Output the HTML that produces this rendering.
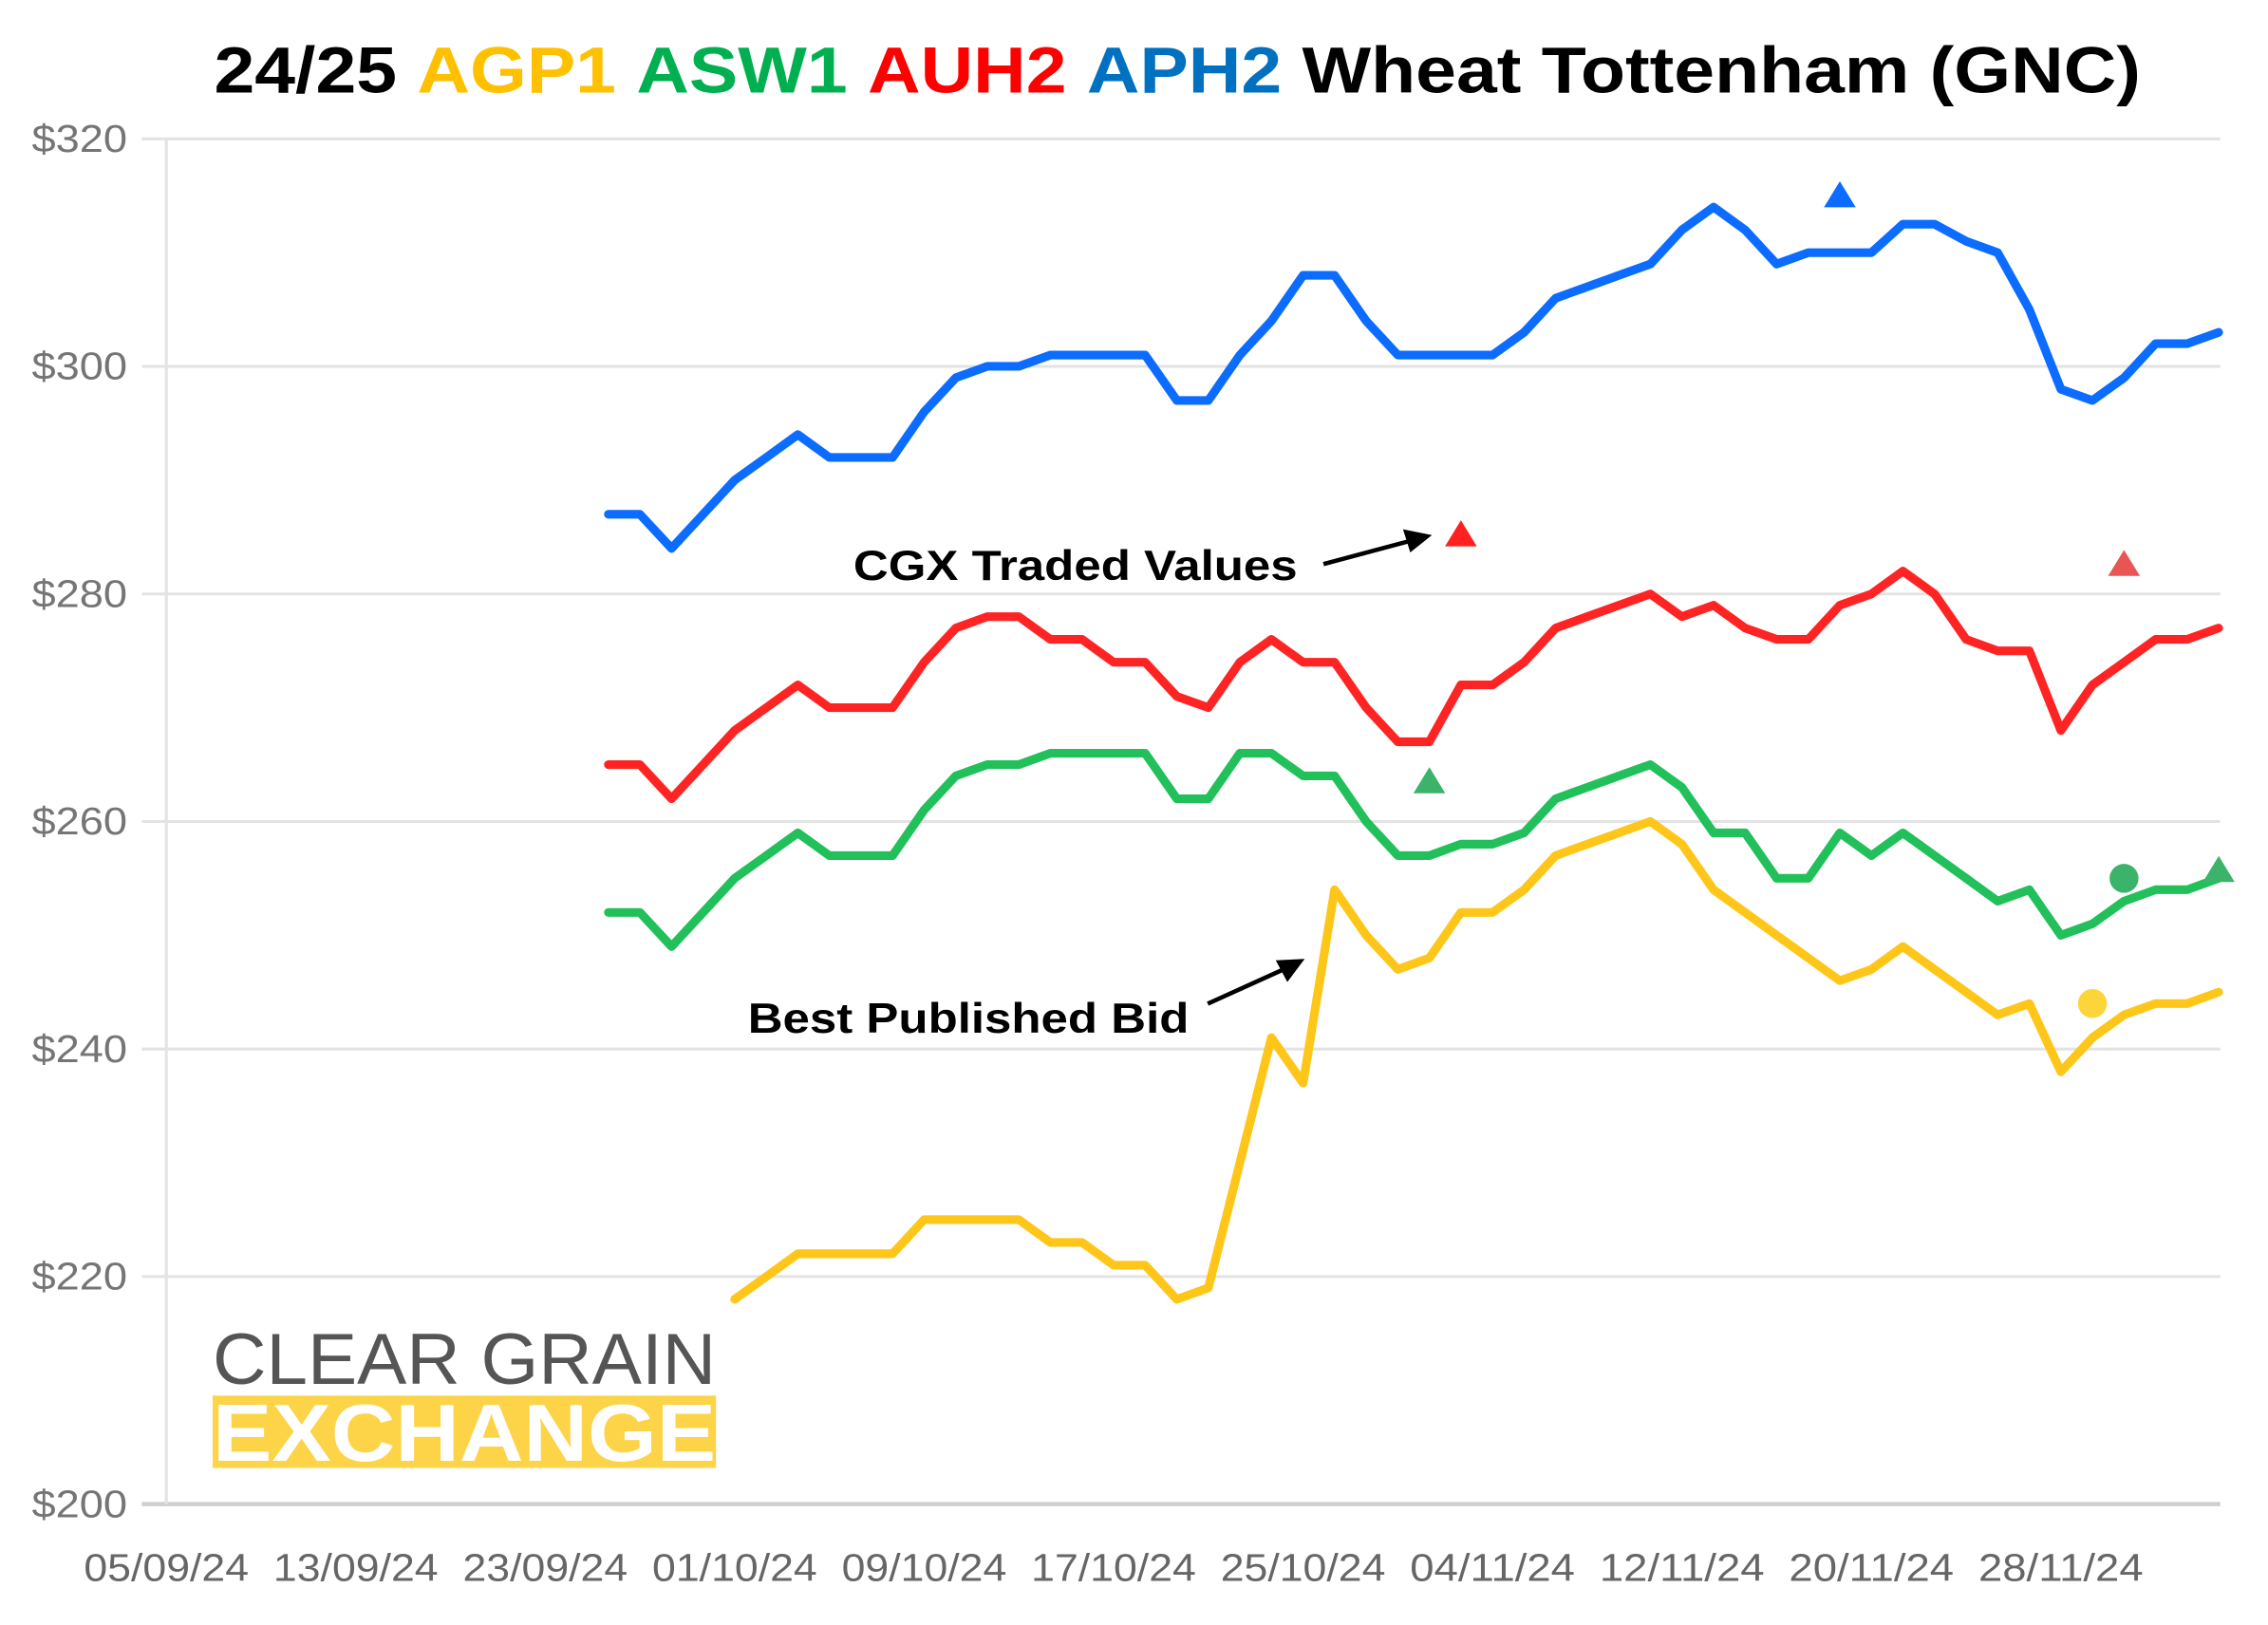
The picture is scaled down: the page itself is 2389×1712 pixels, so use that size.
<!DOCTYPE html>
<html><head><meta charset="utf-8"><style>
html,body{margin:0;padding:0;background:#fff;}
svg{display:block;}
</style></head><body>
<svg id="chart" width="2389" height="1712" viewBox="0 0 1568 1123.6" preserveAspectRatio="none" xmlns="http://www.w3.org/2000/svg" font-family="Liberation Sans, sans-serif">
<text x="814" y="64" text-anchor="middle" font-size="45" font-weight="bold" textLength="1332" lengthAdjust="spacingAndGlyphs"><tspan fill="#000">24/25 </tspan><tspan fill="#ffc000">AGP1 </tspan><tspan fill="#00b050">ASW1 </tspan><tspan fill="#ff0000">AUH2 </tspan><tspan fill="#0070c0">APH2 </tspan><tspan fill="#000">Wheat Tottenham (GNC)</tspan></text>
<g id="grid"></g>
<g id="xlabels"></g>
<g>
<text x="147" y="957" font-size="50" fill="#555" textLength="348" lengthAdjust="spacingAndGlyphs">CLEAR GRAIN</text>
<rect x="147" y="965" width="348" height="50" fill="#fdd447"/>
<text x="147" y="1010" font-size="56" font-weight="bold" fill="#fff" textLength="348" lengthAdjust="spacingAndGlyphs">EXCHANGE</text>
</g>
<g id="series"></g>
<g id="markers"></g>
<g>
<text x="590" y="401" font-size="29" font-weight="bold" fill="#000" textLength="307" lengthAdjust="spacingAndGlyphs">CGX Traded Values</text>
<line x1="915" y1="390" x2="975" y2="374" stroke="#000" stroke-width="3"/>
<polygon points="990,370 970,366 975,382" fill="#000"/>
</g>
<g>
<text x="517" y="714" font-size="29" font-weight="bold" fill="#000" textLength="305" lengthAdjust="spacingAndGlyphs">Best Published Bid</text>
<line x1="835" y1="694" x2="888" y2="670" stroke="#000" stroke-width="3"/>
<polygon points="902,663 882,664 890,679" fill="#000"/>
</g>
</svg>
<script>
const yTicks = [200, 220, 240, 260, 280, 300, 320];
const xTickLabels = ["05/09/24","13/09/24","23/09/24","01/10/24","09/10/24","17/10/24","25/10/24","04/11/24","12/11/24","20/11/24","28/11/24"];
const startIndex = 14;
const aph2 = [287,287,284,287,290,292,294,292,292,292,296,299,300,300,301,301,301,301,297,297,301,304,308,308,304,301,301,301,301,303,306,307,308,309,312,314,312,309,310,310,310,312.5,312.5,311,310,305,298,297,299,302,302,303];
const auh2 = [265,265,262,265,268,270,272,270,270,270,274,277,278,278,276,276,274,274,271,270,274,276,274,274,270,267,267,272,272,274,277,278,279,280,278,279,277,276,276,279,280,282,280,276,275,275,268,272,274,276,276,277];
const asw1 = [252,252,249,252,255,257,259,257,257,257,261,264,265,265,266,266,266,266,262,262,266,266,264,264,260,257,257,258,258,259,262,263,264,265,263,259,259,255,255,259,257,259,257,255,253,254,250,251,253,254,254,255];
const agp1 = [null,null,null,null,218,220,222,222,222,222,225,225,225,225,223,223,221,221,218,219,230,241,237,254,250,247,248,252,252,254,257,258,259,260,258,254,252,250,248,246,247,249,247,245,243,244,238,241,243,244,244,245];
const tradeIdx = [53, 41, 62, 40, 62, 65, 61];
const tradeVal = [315, 285.2, 282.6, 263.5, 255, 255.7, 244];
const tradeShape = ["tri","tri","tri","tri","dot","tri","dot"];
const tradeColor = ["#0b6cff","#ff2020","#e85555","#3cb36a","#3cb36a","#3cb36a","#fdd43a"];

const NS = "http://www.w3.org/2000/svg";
const X0 = 115, DX = 21.83, Y0 = 1040, YSTEP = 157.33;
const xs = i => X0 + i * DX;
const ys = v => Y0 - (v - 200) / 20 * YSTEP;
function mk(tag, attrs, parent){const e=document.createElementNS(NS,tag);for(const k in attrs)e.setAttribute(k,attrs[k]);parent.appendChild(e);return e;}

const grid = document.getElementById('grid');
yTicks.forEach(v=>{
  const l = mk('line',{x1:98,x2:1535,y1:ys(v),y2:ys(v),stroke:v===200?'#cfcfcf':'#e3e3e3','stroke-width':v===200?3:2},grid);
  
  
  const t = mk('text',{x:88,y:ys(v)+9,'text-anchor':'end','font-size':27,fill:'#757575',textLength:66,lengthAdjust:'spacingAndGlyphs'},grid);
  t.textContent = '$'+v;
  
  
});
const ax = mk('line',{x1:115,x2:115,y1:96,y2:1040,stroke:'#e3e3e3','stroke-width':2},grid);



const xl = document.getElementById('xlabels');
xTickLabels.forEach((s,i)=>{
  const t = mk('text',{x:xs(i*6),y:1093,'text-anchor':'middle','font-size':27,fill:'#666',textLength:114,lengthAdjust:'spacingAndGlyphs'},xl);
  t.textContent = s;
  
  
});

const sg = document.getElementById('series');
[[agp1,'#ffc61a','agp1-line'],[asw1,'#22c05a','asw1-line'],[auh2,'#ff2424','auh2-line'],[aph2,'#0b6cff','aph2-line']].forEach(([arr,c,name])=>{
  let d='';let pen=false;
  arr.forEach((v,i)=>{ if(v===null){pen=false;return;} d+=(pen?'L':'M')+xs(startIndex+i).toFixed(1)+','+ys(v).toFixed(1)+' '; pen=true; });
  const p = mk('path',{d:d,fill:'none',stroke:c,'stroke-width':6,'stroke-linejoin':'round','stroke-linecap':'round'},sg);
  
  
});

const mg = document.getElementById('markers');
tradeIdx.forEach((ix,k)=>{
  const x = xs(ix), y = ys(tradeVal[k]);
  let e;
  if(tradeShape[k]==='tri'){
    e = mk('polygon',{points:`${x},${y-10} ${x-11},${y+8} ${x+11},${y+8}`,fill:tradeColor[k]},mg);
  } else {
    e = mk('circle',{cx:x,cy:y,r:10,fill:tradeColor[k]},mg);
  }
  
  
});
</script>
</body></html>
